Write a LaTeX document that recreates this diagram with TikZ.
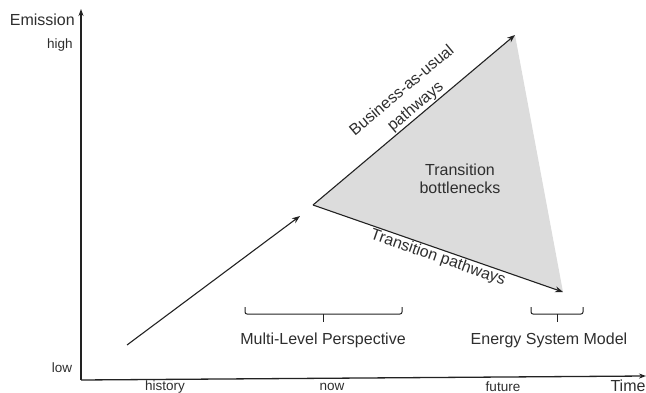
\documentclass[tikz,border=0pt]{standalone}
\usepackage{fontspec}
\setmainfont{Liberation Sans}
\usetikzlibrary{arrows.meta}
\definecolor{txt}{HTML}{2E2E2E}
\definecolor{ln}{HTML}{222222}
\definecolor{fillg}{HTML}{DCDCDC}
\tikzset{
  big/.style={font=\fontsize{16}{18}\selectfont, text=txt, inner sep=0pt},
  small/.style={font=\fontsize{13.5}{16}\selectfont, text=txt, inner sep=0pt},
  arr/.style={draw=ln, line width=1.1pt, -{Stealth[length=8pt,width=6pt]}},
  axis/.style={draw=ln, line width=1.3pt, -{Stealth[length=7pt,width=5pt]}},
  brace/.style={draw=ln, line width=1pt, rounded corners=2pt},
}
\begin{document}
\begin{tikzpicture}[x=1pt, y=-1pt]
\useasboundingbox (0,0) rectangle (646,393);
% axes
\coordinate (O) at (81,380);
\coordinate (Ytop) at (81,9);
\coordinate (Xend) at (646,376);
\draw[axis] (O) -- (Ytop);
\draw[axis] (O) -- (Xend);
\node[big, anchor=east] (emis) at (75,20) {Emission};
\node[big] (time) at (628,386) {Time};
\node[small] (high) at (60,45) {high};
\node[small] (low) at (62,368) {low};
\node[small] (hist) at (165,387) {history};
\node[small] (now) at (332,387) {now};
\node[small] (fut) at (503,387) {future};
% triangle
\coordinate (L) at (313,205);
\coordinate (T) at (515,35);
\coordinate (B) at (563,292);
\fill[fillg] (L) -- (T) -- (B) -- cycle;
\draw[arr] (L) -- (T);
\draw[arr] (L) -- (B);
% history arrow
\coordinate (s0) at (127,345);
\coordinate (s1) at (300,216);
\draw[arr] (s0) -- (s1);
% labels
\node[big, font=\fontsize{16}{21}\selectfont, align=center, rotate=40] (bau) at (409,99) {Business-as-usual\\pathways};
\node[big, rotate=-19.2] (tp) at (438,258) {Transition pathways};
\node[big, align=center] (tb) at (460,179) {Transition\\bottlenecks};
% braces
\coordinate (m1) at (245,307);
\coordinate (m2) at (402,307);
\coordinate (mc) at (323,314);
\draw[brace] (m1) |- (mc) -| (m2);
\draw[draw=ln, line width=1pt] (mc) -- ++(0,8);
\node[big] (mlp) at (323,340) {Multi-Level Perspective};
\coordinate (e1) at (531,307);
\coordinate (e2) at (583,307);
\coordinate (ec) at (557,314);
\draw[brace] (e1) |- (ec) -| (e2);
\draw[draw=ln, line width=1pt] (ec) -- ++(0,8);
\node[big] (esm) at (549,340) {Energy System Model};
\end{tikzpicture}
\end{document}
